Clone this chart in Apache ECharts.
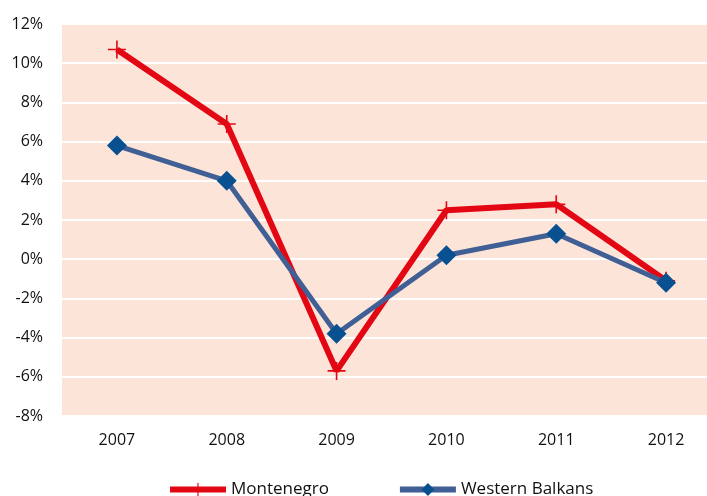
<!DOCTYPE html>
<html>
<head>
<meta charset="utf-8">
<script src="https://cdn.jsdelivr.net/npm/echarts@6/dist/echarts.min.js"></script>
<style>
  html, body { margin: 0; padding: 0; background: #fff; }
  #chart { width: 707px; height: 496px; }
</style>
</head>
<body>
<div id="chart"></div>
<script>
// Annual growth rates, percent
const years = ['2007', '2008', '2009', '2010', '2011', '2012'];
const montenegro = [10.7, 6.9, -5.7, 2.5, 2.8, -1.1];
const westernBalkans = [5.8, 4.0, -3.8, 0.2, 1.3, -1.2];

const plusPath = 'path://M-0.09,-1 L0.09,-1 L0.09,-0.09 L1,-0.09 L1,0.09 L0.09,0.09 L0.09,1 L-0.09,1 L-0.09,0.09 L-1,0.09 L-1,-0.09 L-0.09,-0.09 Z';
const font = 'Open Sans, Liberation Sans, sans-serif';

const chart = echarts.init(document.getElementById('chart'));
chart.setOption({
  animation: false,
  textStyle: { fontFamily: font },
  grid: {
    left: 62, right: -14, top: 24, bottom: 80,
    outerBoundsMode: 'none',
    backgroundColor: '#FCE4D9', show: true, borderWidth: 0
  },
  legend: {
    top: 476,
    left: 162,
    itemWidth: 56,
    itemHeight: 16,
    itemGap: 68,
    lineStyle: { width: 6 },
    textStyle: { fontSize: 17, color: '#111', fontFamily: font },
    data: ['Montenegro', 'Western Balkans']
  },
  xAxis: {
    type: 'category',
    data: years,
    boundaryGap: true,
    axisLine: { show: false },
    axisTick: { show: false },
    axisLabel: { fontSize: 16, color: '#111', margin: 16 }
  },
  yAxis: {
    type: 'value',
    min: -8,
    max: 12,
    interval: 2,
    axisLine: { show: false },
    axisTick: { show: false },
    axisLabel: { fontSize: 16, color: '#111', margin: 19, formatter: v => v + '%' },
    splitLine: { lineStyle: { color: '#ffffff', width: 2 } }
  },
  series: [
    {
      name: 'Montenegro',
      type: 'line',
      data: montenegro,
      lineStyle: { color: '#E30613', width: 6 },
      itemStyle: { color: '#E30613' },
      symbol: plusPath,
      symbolSize: 18,
      z: 3
    },
    {
      name: 'Western Balkans',
      type: 'line',
      data: westernBalkans,
      lineStyle: { color: '#3F5F95', width: 5 },
      itemStyle: { color: '#08508F' },
      symbol: 'diamond',
      symbolSize: 20,
      z: 4
    }
  ]
});
</script>
</body>
</html>
